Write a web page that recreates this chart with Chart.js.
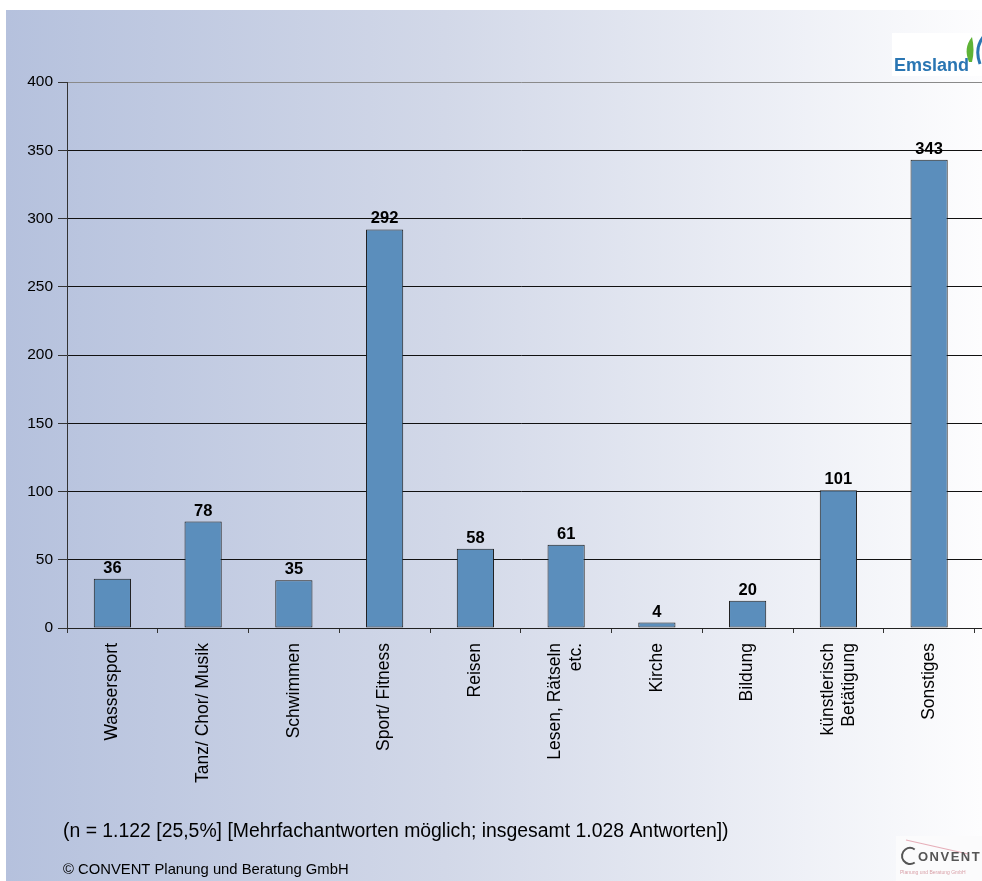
<!DOCTYPE html>
<html>
<head>
<meta charset="utf-8">
<script src="https://cdn.jsdelivr.net/npm/chart.js@4.4.1/dist/chart.umd.min.js"></script>
<style>
  html, body { margin: 0; padding: 0; background: #fff; overflow: hidden; }
  canvas { display: block; }
</style>
</head>
<body>
<canvas id="chart" width="982" height="881"></canvas>
<script>
// Freizeitaktivitäten – Anzahl der Nennungen
const categories = [
  ['Wassersport'],
  ['Tanz/ Chor/ Musik'],
  ['Schwimmen'],
  ['Sport/ Fitness'],
  ['Reisen'],
  ['Lesen, Rätseln', 'etc.'],
  ['Kirche'],
  ['Bildung'],
  ['künstlerisch', 'Betätigung'],
  ['Sonstiges']
];
const answers = [36, 78, 35, 292, 58, 61, 4, 20, 101, 343];
const yTicks = [0, 50, 100, 150, 200, 250, 300, 350, 400];
const noteText = '(n = 1.122 [25,5%] [Mehrfachantworten möglich; insgesamt 1.028 Antworten])';
const copyrightText = '© CONVENT Planung und Beratung GmbH';
const brandTop = 'Emsland';
const brandBottom = 'ONVENT';
const brandBottomSub = 'Planung und Beratung GmbH';

const FONT = "'Liberation Sans', Arial, Helvetica, sans-serif";
const FRAME_RIGHT = 982;

// same half-pixel snapping the library uses for 1px grid lines
const snap = p => Math.round(p - 0.5) + 0.5;

// slide-style background: white margin, then a left-to-right blue-grey fade
const backgroundPlugin = {
  id: 'slideBackground',
  beforeDraw(chart) {
    const { ctx, width, height } = chart;
    ctx.save();
    ctx.fillStyle = '#ffffff';
    ctx.fillRect(0, 0, width, height);
    const g = ctx.createLinearGradient(6, 0, width, 0);
    g.addColorStop(0, '#b5c1dd');
    g.addColorStop(0.45, '#d2d8e8');
    g.addColorStop(1, '#fdfdfe');
    ctx.fillStyle = g;
    ctx.fillRect(6, 10, width - 6, height - 10);
    ctx.restore();
  }
};

// gridlines and axis continue a few pixels past the last category
const frameExtension = {
  id: 'frameExtension',
  afterDraw(chart) {
    const { ctx, chartArea } = chart;
    const y = chart.scales.y;
    ctx.save();
    ctx.lineWidth = 1;
    yTicks.forEach(v => {
      const py = snap(y.getPixelForValue(v));
      ctx.strokeStyle = v === 400 ? '#8a8a8a' : (v === 0 ? '#222' : '#111');
      ctx.beginPath();
      ctx.moveTo(chartArea.right - 1, py);
      ctx.lineTo(FRAME_RIGHT, py);
      ctx.stroke();
    });
    ctx.restore();
  }
};

// value above each bar
const valueLabels = {
  id: 'valueLabels',
  afterDatasetsDraw(chart) {
    const { ctx } = chart;
    const meta = chart.getDatasetMeta(0);
    ctx.save();
    ctx.font = 'bold 16.5px ' + FONT;
    ctx.fillStyle = '#000';
    ctx.textAlign = 'center';
    ctx.textBaseline = 'alphabetic';
    meta.data.forEach((bar, i) => {
      ctx.fillText(String(answers[i]), bar.x, bar.y - 6);
    });
    ctx.restore();
  }
};

// category names, rotated to read bottom-to-top
const categoryLabels = {
  id: 'categoryLabels',
  afterDraw(chart) {
    const { ctx } = chart;
    const x = chart.scales.x;
    const top = x.top + 15;
    const lineH = 21;
    ctx.save();
    ctx.font = '17.5px ' + FONT;
    ctx.fillStyle = '#000';
    ctx.textAlign = 'right';
    ctx.textBaseline = 'middle';
    categories.forEach((lines, i) => {
      const px = x.getPixelForValue(i);
      ctx.save();
      ctx.translate(px, top);
      ctx.rotate(-Math.PI / 2);
      lines.forEach((line, j) => {
        ctx.fillText(line, 0, (j - (lines.length - 1) / 2) * lineH);
      });
      ctx.restore();
    });
    ctx.restore();
  }
};

// footnote, copyright and the two logos
const decorations = {
  id: 'decorations',
  afterDraw(chart) {
    const { ctx } = chart;
    ctx.save();
    ctx.fillStyle = '#000';
    ctx.textAlign = 'left';
    ctx.textBaseline = 'alphabetic';
    ctx.font = '19.4px ' + FONT;
    ctx.fillText(noteText, 63, 837);
    ctx.font = '14.8px ' + FONT;
    ctx.fillText(copyrightText, 63, 874);

    // Emsland logo
    ctx.fillStyle = '#ffffff';
    ctx.fillRect(892, 33, 90, 43);
    ctx.fillStyle = '#2a76b3';
    ctx.font = 'bold 18px ' + FONT;
    ctx.fillText(brandTop, 894, 71);
    ctx.fillStyle = '#5fb336';
    ctx.beginPath();
    ctx.moveTo(969, 62);
    ctx.quadraticCurveTo(963, 48, 972, 37);
    ctx.quadraticCurveTo(975, 50, 972, 62);
    ctx.closePath();
    ctx.fill();
    ctx.strokeStyle = '#2a76b3';
    ctx.lineWidth = 3;
    ctx.beginPath();
    ctx.moveTo(984, 36);
    ctx.quadraticCurveTo(974, 48, 980, 64);
    ctx.stroke();

    // CONVENT logo
    ctx.fillStyle = '#fbfbfc';
    ctx.fillRect(896, 836, 86, 45);
    ctx.strokeStyle = '#e6aeb8';
    ctx.lineWidth = 1.2;
    ctx.beginPath();
    ctx.moveTo(906, 840);
    ctx.lineTo(968, 854);
    ctx.stroke();
    ctx.strokeStyle = '#555';
    ctx.lineWidth = 2;
    ctx.beginPath();
    ctx.arc(910, 856, 8, Math.PI * 0.3, Math.PI * 1.7);
    ctx.stroke();
    ctx.fillStyle = '#555';
    ctx.font = 'bold 13px ' + FONT;
    if ('letterSpacing' in ctx) ctx.letterSpacing = '1.5px';
    ctx.fillText(brandBottom, 918, 861);
    if ('letterSpacing' in ctx) ctx.letterSpacing = '0px';
    ctx.fillStyle = '#d9a0a8';
    ctx.font = '5px ' + FONT;
    ctx.fillText(brandBottomSub, 900, 874);
    ctx.restore();
  }
};

new Chart(document.getElementById('chart'), {
  type: 'bar',
  data: {
    labels: categories,
    datasets: [{
      data: answers,
      backgroundColor: '#5b8ebc',
      borderColor: '#1e1e1e',
      borderWidth: 1,
      borderSkipped: false,
      barPercentage: 0.41,
      categoryPercentage: 1
    }]
  },
  options: {
    responsive: false,
    devicePixelRatio: 1,
    animation: false,
    layout: { padding: { top: 82, right: 7.5, left: 0, bottom: 0 } },
    plugins: { legend: { display: false }, tooltip: { enabled: false } },
    scales: {
      x: {
        grid: { drawOnChartArea: false, drawTicks: true, tickLength: 5, color: '#333', offset: true },
        border: { color: '#222', width: 1 },
        ticks: { display: false },
        afterFit(scale) { scale.height = 253; }
      },
      y: {
        min: 0,
        max: 400,
        afterBuildTicks(scale) { scale.ticks = yTicks.map(v => ({ value: v })); },
        grid: {
          color: c => (c.tick && c.tick.value === 400 ? '#8a8a8a' : '#111'),
          tickColor: '#333',
          tickLength: 9,
          lineWidth: 1
        },
        border: { color: '#333', width: 1 },
        ticks: { font: { family: FONT, size: 15.5 }, color: '#000', padding: 5 },
        afterFit(scale) { scale.width = 67; }
      }
    }
  },
  plugins: [backgroundPlugin, frameExtension, valueLabels, categoryLabels, decorations]
});
</script>
</body>
</html>
